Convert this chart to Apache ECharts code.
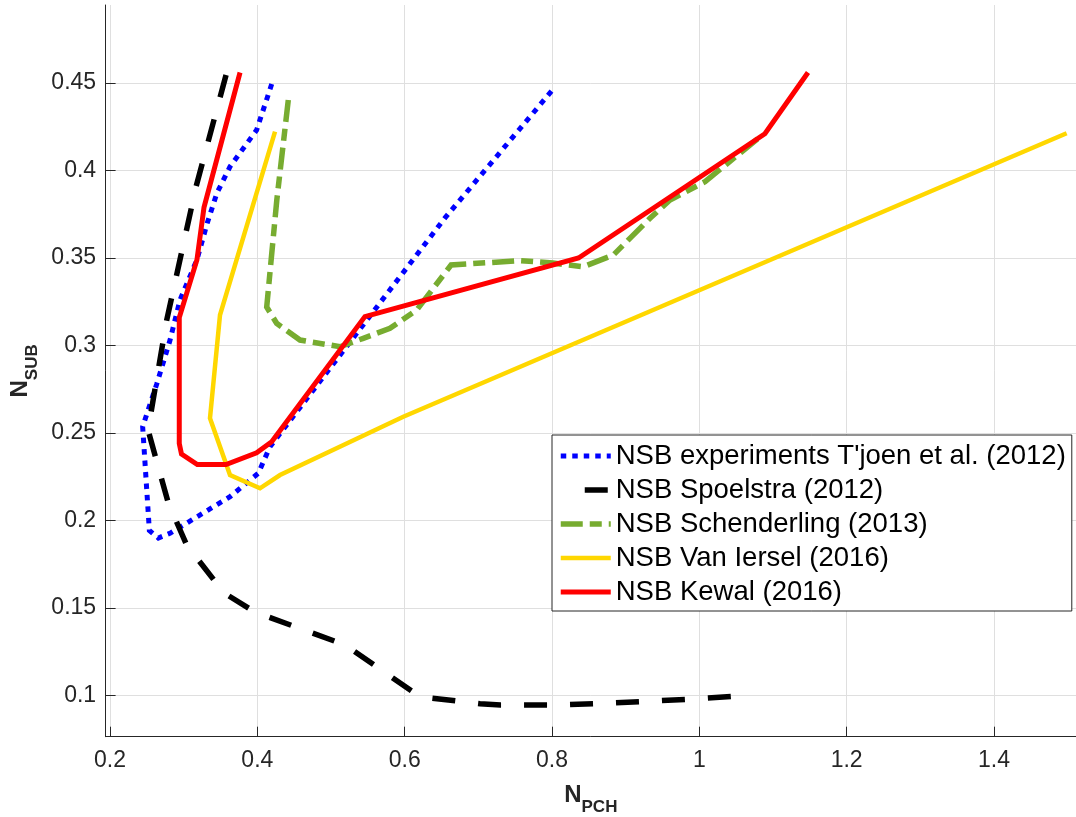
<!DOCTYPE html>
<html>
<head>
<meta charset="utf-8">
<script src="https://cdn.jsdelivr.net/npm/echarts@6/dist/echarts.min.js"></script>
<style>
  html, body {margin: 0; padding: 0; background: #fff;}
  #chart {width: 1076px; height: 817px;}
</style>
</head>
<body>
<div id="chart"></div>
<script>
// axis ticks
const xTicks = [0.2, 0.4, 0.6, 0.8, 1, 1.2, 1.4];
const yTicks = [0.1, 0.15, 0.2, 0.25, 0.3, 0.35, 0.4, 0.45];

const names = [
  "NSB experiments T'joen et al. (2012)",
  'NSB Spoelstra (2012)',
  'NSB Schenderling (2013)',
  'NSB Van Iersel (2016)',
  'NSB Kewal (2016)'
];

// [N_PCH, N_SUB]
const tjoen = [
  [0.4195, 0.4494], [0.399, 0.4231], [0.3629, 0.4022], [0.345, 0.387], [0.332, 0.37],
  [0.318, 0.349], [0.295, 0.326], [0.2814, 0.303], [0.2634, 0.278], [0.2443, 0.2536],
  [0.2452, 0.248], [0.2534, 0.1943], [0.2656, 0.19], [0.2814, 0.1927], [0.3629, 0.2136],
  [0.4013, 0.227], [0.4172, 0.2422], [0.6547, 0.3729], [0.804, 0.4477]
];
const spoelstra = [
  [0.3575, 0.4546], [0.3167, 0.3906], [0.277, 0.3146], [0.2516, 0.2517], [0.2791, 0.21],
  [0.3041, 0.186], [0.3547, 0.1586], [0.3968, 0.1477], [0.519, 0.1289], [0.6208, 0.0993],
  [0.7022, 0.0953], [0.73, 0.0946], [0.81, 0.0946], [0.873, 0.0955], [1.0, 0.0982],
  [1.063, 0.1]
];
const schenderling = [
  [0.442, 0.4403], [0.4264, 0.3831], [0.4127, 0.322], [0.4262, 0.3127], [0.4579, 0.3031],
  [0.5122, 0.2993], [0.5438, 0.3041], [0.58, 0.3098], [0.6163, 0.3203], [0.663, 0.346],
  [0.7565, 0.3485], [0.8013, 0.3471], [0.8425, 0.345], [0.8832, 0.3517], [0.933, 0.3727],
  [0.9601, 0.3831], [1.0077, 0.3936], [1.0823, 0.4192]
];
const vanIersel = [
  [0.424, 0.4222], [0.3493, 0.3174], [0.3357, 0.2584], [0.3629, 0.226], [0.4036, 0.2184],
  [0.4308, 0.226], [0.5981, 0.2593], [1.4986, 0.4213]
];
const kewal = [
  [0.3765, 0.456], [0.3276, 0.379], [0.318, 0.349], [0.294, 0.316], [0.294, 0.244],
  [0.297, 0.238], [0.3185, 0.232], [0.3575, 0.232], [0.399, 0.2387], [0.4195, 0.245],
  [0.546, 0.3165], [0.836, 0.35], [1.089, 0.421], [1.1475, 0.456]
];

const font = '"Liberation Sans", Arial, Helvetica, sans-serif';
const axisColor = '#262626';
const gridColor = '#dfdfdf';

const colors = ['#0000ff', '#000000', '#77ac30', '#ffd700', '#ff0000'];
const widths = [5, 5.5, 5.5, 4.5, 5];
const dashes = [[5.5, 6], [23, 23], [22, 7, 12, 7], 'solid', 'solid'];
// legend sample of the dashed line shows a single dash near the left
// (the sample is stroked right to left, hence the long leading gap)
const legendDashes = [[5.5, 6], [0.001, 24, 23, 100], [22, 7, 12, 7], 'solid', 'solid'];
const curves = [tjoen, spoelstra, schenderling, vanIersel, kewal];

const series = curves.map((data, i) => ({
  name: names[i],
  type: 'line',
  data: data,
  symbol: 'none',
  lineStyle: {color: colors[i], width: widths[i], type: dashes[i], cap: 'butt', join: 'miter'},
  itemStyle: {color: colors[i]}
}));

const legendData = names.map((name, i) => ({
  name: name,
  itemStyle: {opacity: 0},
  lineStyle: {color: colors[i], width: widths[i], type: legendDashes[i], cap: 'butt', opacity: 1}
}));

const axisName = (sub) => ({
  name: '{n|N}{s|' + sub + '}',
  nameLocation: 'middle',
  nameTextStyle: {
    rich: {
      n: {fontFamily: font, fontSize: 24, fontWeight: 'bold', color: axisColor},
      s: {fontFamily: font, fontSize: 17, fontWeight: 'bold', color: axisColor, padding: [24, 0, 0, 0]}
    }
  }
});

const chart = echarts.init(document.getElementById('chart'));
chart.setOption({
  backgroundColor: '#fff',
  animation: false,
  grid: {left: 105.6, right: 0, top: 5, bottom: 80.3, containLabel: false, outerBoundsMode: 'none'},
  xAxis: Object.assign(axisName('PCH'), {
    type: 'value',
    min: 0.194,
    max: 1.5113,
    nameGap: 38,
    axisLine: {show: true, onZero: false, lineStyle: {color: axisColor, width: 1}},
    axisTick: {show: true, inside: true, length: 10, customValues: xTicks, lineStyle: {color: axisColor}},
    axisLabel: {customValues: xTicks, margin: 12, fontFamily: font, fontSize: 23, color: axisColor},
    splitLine: {show: true, lineStyle: {color: gridColor, width: 1}}
  }),
  yAxis: Object.assign(axisName('SUB'), {
    type: 'value',
    min: 0.07646,
    max: 0.49457,
    nameGap: 64,
    axisLine: {show: true, onZero: false, lineStyle: {color: axisColor, width: 1}},
    axisTick: {show: true, inside: true, length: 10, customValues: yTicks, lineStyle: {color: axisColor}},
    axisLabel: {customValues: yTicks, margin: 9.5, fontFamily: font, fontSize: 23, color: axisColor},
    splitLine: {show: true, lineStyle: {color: gridColor, width: 1}}
  }),
  legend: {
    orient: 'vertical',
    left: 552,
    top: 435,
    data: legendData,
    itemWidth: 50,
    itemHeight: 27,
    itemGap: 6,
    padding: [7, 6, 5, 6],
    backgroundColor: '#fff',
    borderColor: axisColor,
    borderWidth: 1,
    borderRadius: 0,
    selectedMode: false,
    textStyle: {fontFamily: font, fontSize: 27.5, color: '#000', lineHeight: 27}
  },
  series: series
});
</script>
</body>
</html>
